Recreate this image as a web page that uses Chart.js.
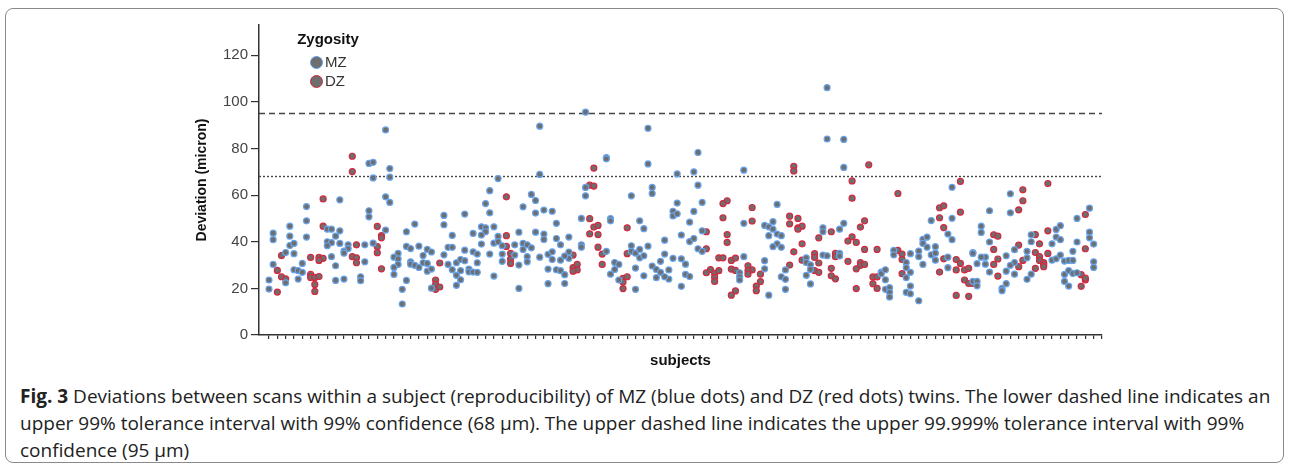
<!DOCTYPE html>
<html>
<head>
<meta charset="utf-8">
<script src="https://cdn.jsdelivr.net/npm/chart.js@4.4.0/dist/chart.umd.min.js"></script>
<style>
  body { margin: 0; background: #fff; width: 1289px; height: 470px; position: relative; overflow: hidden; font-family: "Liberation Sans", Arial, sans-serif; }
  #frame { position: absolute; left: 5px; top: 8px; width: 1277px; height: 453px; border: 1px solid #8a8a8a; border-radius: 8px; }
  #chart { position: absolute; left: 0; top: 0; }
  .leg-title { position: absolute; left: 290px; top: 30px; width: 76px; text-align: center; font-weight: bold; font-size: 15px; color: #111; }
  .leg-item { position: absolute; left: 310px; font-size: 15px; color: #333; line-height: 16px; }
  .leg-item span { display: inline-block; width: 11px; height: 11px; border-radius: 50%; background: #6e6e6e; border: 1.5px solid; vertical-align: -2px; margin-right: 2px; }
  #caption { position: absolute; left: 20px; top: 383px; font-family: "Open Sans", sans-serif; font-size: 19px; line-height: 27px; color: #222; white-space: nowrap; }
</style>
</head>
<body>
<div id="frame"></div>
<canvas id="chart" width="1289" height="380"></canvas>
<div class="leg-title">Zygosity</div>
<div class="leg-item" style="top:54px"><span style="border-color:#5b9cf0"></span>MZ</div>
<div class="leg-item" style="top:73px"><span style="border-color:#d3263f"></span>DZ</div>
<div id="caption"><b>Fig. 3</b> Deviations between scans within a subject (reproducibility) of MZ (blue dots) and DZ (red dots) twins. The lower dashed line indicates an<br>upper 99% tolerance interval with 99% confidence (68 μm). The upper dashed line indicates the upper 99.999% tolerance interval with 99%<br>confidence (95 μm)</div>
<script>
// [subject position, deviation in micron]
const mzPoints = [
  [1,43.7],[1,40.9],[5,46.7],[5,42.4],[9,55.1],[9,49],[9,42],[17,58],[14,45.4],[15,45.4],[17,44.7],[16,42.4],[5,38.4],[6,39.3],[14,40],[15,39.6],[14,38.3],[17,39.3],[19,38.7],[19,37.1],[18,36],[18,35.1],[4,35.4],[6,34.9],[15,33.6],[1,30.3],[8,30.7],[16,29.7],[6,28],[7,27.6],[8,26.9],[4,22.4],[0,23.6],[7,24],[16,23.4],[18,24],[22,25],[22,23.3],[0,19.7],
  [28,88],[24,73.6],[25,74.1],[29,71.4],[25,67.4],[29,67.7],[28,59.3],[29,56.9],[24,53.3],[24,50.7],[28,45],[23,38.7],[25,39.4],[23,31.4],[33,44.3],[35,47.6],[33,38],[34,37.1],[36,38.1],[38,36.7],[39,35.6],[37,34.1],[31,35],[30,33.4],[31,32.6],[31,30.3],[30,29],[30,26],[34,31.4],[34,30.4],[35,29.9],[36,29],[37,31],[38,30.7],[38,27.4],[39,28.3],[33,23.4],[32,19.6],[32,13.3],[39,20.1],[42,51.3],[42,47.3],[44,42.7],[42,34.4],[43,37.6],[44,37.6],[43,30.3],[44,28],[45,31],[46,32.4],[45,25.6],[46,27.6],[45,21.3],[46,23.7],
  [65,89.6],[65,68.9],[55,67.1],[53,61.9],[52,56.4],[53,52.4],[63,60.3],[64,57.7],[61,55],[64,52.3],[66,53.6],[68,53.1],[69,47.9],[47,51.9],[51,46.4],[52,46],[52,44.3],[54,46.4],[49,43.6],[51,42.9],[55,42.3],[60,44.1],[64,44.1],[66,43.3],[66,41],[69,41.4],[51,39],[54,39.4],[55,40],[56,38.3],[59,38.7],[61,39.3],[62,38.7],[61,36.7],[63,37.4],[70,38.7],[47,36.4],[49,35.7],[50,34.7],[53,34.7],[56,34.7],[56,31.6],[59,34.3],[62,33.6],[62,31.4],[60,30],[65,33.4],[67,34.6],[68,35.7],[68,32.4],[70,32.1],[47,31.9],[50,31],[48,28.3],[48,27.1],[49,27],[50,26.9],[54,25.3],[67,28.3],[69,28],[70,27.6],[67,22],[71,25.9],[71,22.1],[60,20],
  [76,95.6],[91,88.7],[81,76.1],[81,75.6],[91,73.4],[76,63.3],[76,59.7],[92,63.3],[92,60.7],[87,59.7],[75,50],[82,49.9],[82,49],[89,49],[90,45.6],[72,42],[75,38.7],[75,37.7],[81,35.9],[87,38.3],[87,35.9],[88,35.1],[89,36.7],[89,33.1],[90,34],[91,38.1],[72,35.6],[72,32.9],[71,33.9],[83,31.1],[84,30.3],[83,28.1],[82,26.1],[88,28.7],[90,25.4],[92,29.6],[94,31.6],[93,28.1],[93,24.6],[94,26.9],[84,23.6],[88,19.6],[95,40.7],
  [103,78.3],[102,70],[114,70.7],[98,69.1],[103,64.3],[98,56.6],[104,56.9],[97,53.1],[97,51.1],[98,52],[102,53],[114,47.9],[101,48.4],[104,44.7],[99,42.9],[101,40.1],[102,41.4],[103,37],[104,35.9],[95,34.7],[97,32.9],[99,32.7],[100,30.4],[114,33.6],[113,26.7],[113,25],[113,23.6],[96,27.9],[96,24],[95,25],[100,26],[101,25.1],[99,20.9],[119,47],[119,31.9],[119,28.4],
  [134,106.1],[134,84.1],[138,83.9],[138,71.9],[122,56],[120,46.4],[121,45.4],[121,48.6],[120,42.6],[122,43.3],[123,42.6],[122,39.1],[121,37.9],[123,37.6],[133,46],[133,44.3],[137,45.4],[138,47.9],[129,33.1],[129,31.1],[130,30.1],[130,28.1],[133,34.3],[134,34],[137,35],[137,33.9],[123,25],[124,23.9],[124,27.9],[124,19.6],[129,25.6],[130,21.9],[120,17.1],
  [164,63.4],[164,50.1],[159,49.1],[163,43.3],[164,40.9],[150,36.3],[150,34.4],[153,31.1],[153,28.9],[154,34.9],[154,26.9],[153,24.6],[156,36],[156,33.6],[157,41],[158,42],[157,39.3],[158,37.7],[157,30.3],[159,34.4],[160,37.9],[160,35.1],[160,32.1],[163,33.4],[163,28.9],[147,27],[147,26.3],[148,28],[148,23.7],[148,19.6],[149,20.3],[149,18.3],[149,16.3],[154,21],[153,18.3],[154,17.7],[156,14.7],
  [178,60.6],[178,52.4],[173,53.3],[171,46.7],[171,44],[173,39.9],[169,35.4],[169,35],[172,33.4],[171,33.4],[172,30.4],[170,30.6],[173,27],[177,34],[177,27.4],[176,20],[176,19],[177,22],[179,36.6],[179,31.1],[179,26.1],[178,29.9],[182,35.9],[182,33.1],[182,23.9],[183,43],[183,40],[183,26.1],[188,39.1],[188,32.1],[189,45.3],[189,42],[189,32.7],[190,46.9],[190,40.9],[190,34.3],[191,26],[191,23],[169,23],[170,23],[170,21.1],
  [197,54.4],[194,50],[197,44.1],[197,41.7],[198,39],[194,39.9],[193,35.9],[191,31.7],[192,32],[193,32],[198,31.4],[198,29],[192,27.6],[193,26.4],[194,26.7],[192,21]
];

const dzPoints = [
  [20,76.7],[20,70.1],[13,58.4],[13,46.7],[21,38.7],[3,34.1],[10,33.3],[12,33.3],[13,32.9],[12,32],[20,33.6],[21,33.1],[21,31],[2,27.7],[10,26],[10,24.7],[11,24.7],[12,25.1],[3,25],[4,24.1],[11,21.7],[11,18.7],[2,18.4],
  [26,46.6],[27,42.6],[27,41.7],[26,37.9],[26,35.3],[27,28.4],[41,30.9],[40,23.6],[40,21.7],[40,19.6],[41,20.6],
  [57,59.3],[57,42.6],[57,38],[58,35],[58,32.6],[58,30.7],
  [78,71.6],[77,64.3],[78,63.9],[77,49.9],[78,46.3],[79,47],[77,43.4],[79,43.1],[86,46],[79,37.7],[80,34.7],[86,34.9],[73,34.3],[73,28.9],[74,30.3],[74,27.9],[73,27.4],[80,30.3],[85,24.3],[85,22.7],[85,19.9],[86,25],
  [110,57.6],[109,56.4],[109,50.3],[116,54.7],[116,48.9],[105,44.3],[110,43.1],[110,39.7],[105,37],[108,33.1],[109,33.1],[111,32],[112,33],[111,28.3],[112,27.7],[115,29.7],[116,27.9],[115,27.6],[115,26.1],[106,28.1],[105,26.7],[107,26.4],[107,24.7],[107,23],[108,27.6],[118,26.1],[118,22.9],[117,21],[117,19],[112,18.9],[111,17.1],
  [126,72.4],[126,70.4],[140,66.1],[140,58.7],[125,51],[125,47.7],[127,50],[127,46],[128,46.7],[127,45.4],[128,39.1],[126,35.7],[135,44.3],[132,41.7],[139,40.3],[141,39.7],[140,42.1],[142,46.3],[143,49],[125,30],[128,32.1],[131,34.9],[131,33.3],[132,30.9],[136,35],[136,33.6],[139,31.6],[142,31.1],[142,29.9],[141,28.4],[131,27.6],[132,26.9],[135,28.6],[135,25.4],[136,24.1],[141,19.9],
  [144,73],[151,60.7],[166,65.9],[161,54.6],[162,55.4],[161,50.3],[166,52.7],[162,46.1],[143,36.7],[143,30.3],[146,36.7],[151,36.3],[152,34.7],[152,32.4],[152,26.3],[162,32.7],[161,27],[165,32.4],[166,30.7],[165,27.9],[167,23.6],[165,17],[145,24.9],[146,24.9],[145,22],[146,20],
  [187,65],[181,62.3],[181,57.6],[180,53.7],[174,43],[175,42.4],[174,36.7],[175,32.6],[174,30.3],[175,25.3],[180,38.6],[180,29.3],[181,32],[184,43.1],[184,35.4],[184,28.6],[185,39.1],[185,33.6],[185,32],[186,31.1],[186,30.3],[186,29.3],[187,44.7],[187,35],[167,27.9],[168,28.6],[168,22.1],[169,22.1],[168,16.6],
  [196,51.7],[196,37],[195,25.9],[196,23.6],[196,24.4],[195,20.9]
];

const yTicks = [0, 20, 40, 60, 80, 100, 120];
const upperLimit = 95;  // 99.999% tolerance interval
const lowerLimit = 68;  // 99% tolerance interval
const xMin = -2.4, xMax = 200;

const toXY = p => ({x: p[0], y: p[1]});
const axisColor = '#333';

new Chart(document.getElementById('chart'), {
  type: 'scatter',
  data: {
    datasets: [
      {
        label: 'MZ',
        data: mzPoints.map(toXY),
        backgroundColor: '#6e6e6e',
        borderColor: '#68a4ec',
        borderWidth: 1.2,
        pointRadius: 3
      },
      {
        label: 'DZ',
        data: dzPoints.map(toXY),
        backgroundColor: '#6e6e6e',
        borderColor: '#d6283f',
        borderWidth: 1.2,
        pointRadius: 3
      },
      {
        type: 'line',
        data: [{x: xMin, y: upperLimit}, {x: xMax, y: upperLimit}],
        borderColor: '#444',
        borderWidth: 1.4,
        borderDash: [6, 4],
        pointRadius: 0
      },
      {
        type: 'line',
        data: [{x: xMin, y: lowerLimit}, {x: xMax, y: lowerLimit}],
        borderColor: '#444',
        borderWidth: 1.4,
        borderDash: [2, 2],
        pointRadius: 0
      }
    ]
  },
  options: {
    responsive: false,
    animation: false,
    devicePixelRatio: 1,
    layout: {padding: {left: 190, right: 187, top: 25, bottom: 0}},
    plugins: {legend: {display: false}, tooltip: {enabled: false}},
    scales: {
      x: {
        type: 'linear',
        min: xMin,
        max: xMax,
        afterFit: s => { s.height = 45; },
        afterBuildTicks: s => {
          const t = [];
          for (let v = 0; v <= xMax; v += 2) t.push({value: v});
          s.ticks = t;
        },
        ticks: {callback: () => '', autoSkip: false, padding: 0},
        grid: {drawOnChartArea: false, tickLength: 4, color: axisColor, lineWidth: 1.2},
        border: {display: true, color: axisColor, width: 1.5},
        title: {display: true, text: 'subjects', font: {family: 'Liberation Sans', size: 15, weight: 'bold'}, color: '#111', padding: {top: 0, bottom: 10}}
      },
      y: {
        min: 0,
        max: 133,
        afterFit: s => { s.width = 69; },
        afterBuildTicks: s => { s.ticks = yTicks.map(v => ({value: v})); },
        ticks: {font: {family: 'Liberation Sans', size: 15}, color: '#444', padding: 3},
        grid: {drawOnChartArea: false, tickLength: 8, color: axisColor, lineWidth: 1.2},
        border: {display: true, color: axisColor, width: 1.5},
        title: {display: true, text: 'Deviation (micron)', font: {family: 'Liberation Sans', size: 14, weight: 'bold'}, color: '#111', padding: {top: 4, bottom: 0}}
      }
    }
  }
});
</script>
</body>
</html>
